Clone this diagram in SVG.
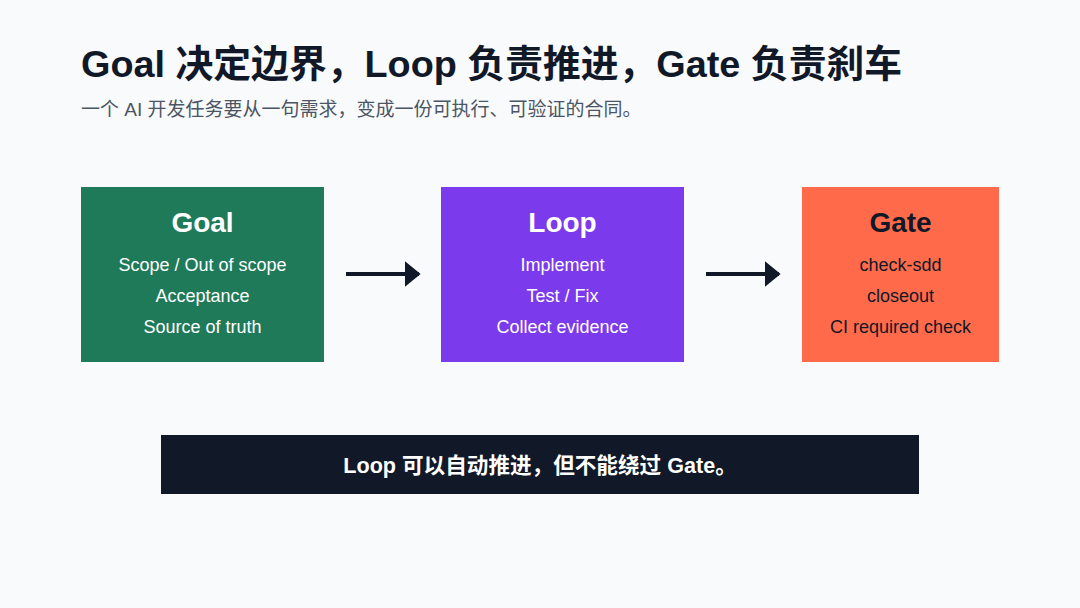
<svg xmlns="http://www.w3.org/2000/svg" width="1080" height="608" viewBox="0 0 1080 608">
<style>
.f{font-family:"Liberation Sans","Noto Sans CJK SC",Arial,sans-serif}
.h{font-size:28px;font-weight:bold;text-anchor:middle}
.b{font-size:18px;text-anchor:middle}
.w{fill:#ffffff}
.d{fill:#111827}
.conn{stroke:#111827;stroke-width:4;fill:none}
</style>
<defs>
<marker id="ah" viewBox="0 0 10 10" refX="9" refY="5" markerWidth="4" markerHeight="6.5" orient="auto" markerUnits="strokeWidth" preserveAspectRatio="none">
<path d="M0,0 L10,5 L0,10 Z" fill="#111827"/>
</marker>
</defs>
<rect width="1080" height="608" fill="#f8fafc"/>
<g id="title">
<text class="f" x="81" y="77" font-size="37.8" font-weight="bold" fill="#111827">Goal 决定边界，Loop 负责推进，Gate 负责刹车</text>
<text class="f" x="81" y="116" font-size="19" fill="#4b5563">一个 AI 开发任务要从一句需求，变成一份可执行、可验证的合同。</text>
</g>
<g id="goal">
<rect x="81" y="187" width="243" height="175" fill="#1f7a5a"/>
<text class="f h w" x="202.5" y="232">Goal</text>
<text class="f b w" x="202.5" y="271">Scope / Out of scope</text>
<text class="f b w" x="202.5" y="302">Acceptance</text>
<text class="f b w" x="202.5" y="333">Source of truth</text>
</g>
<g id="loop">
<rect x="441" y="187" width="243" height="175" fill="#7c3aed"/>
<text class="f h w" x="562.5" y="232">Loop</text>
<text class="f b w" x="562.5" y="271">Implement</text>
<text class="f b w" x="562.5" y="302">Test / Fix</text>
<text class="f b w" x="562.5" y="333">Collect evidence</text>
</g>
<g id="gate">
<rect x="802" y="187" width="197" height="175" fill="#ff6b4a"/>
<text class="f h d" x="900.5" y="232">Gate</text>
<text class="f b d" x="900.5" y="271">check-sdd</text>
<text class="f b d" x="900.5" y="302">closeout</text>
<text class="f b d" x="900.5" y="333">CI required check</text>
</g>
<g id="connectors">
<line class="conn" x1="346" y1="274" x2="419" y2="274" marker-end="url(#ah)"/>
<line class="conn" x1="706" y1="274" x2="779" y2="274" marker-end="url(#ah)"/>
</g>
<g id="banner">
<rect x="161" y="435" width="758" height="59" fill="#111827"/>
<text class="f" x="540" y="473" font-size="21.6" font-weight="bold" fill="#ffffff" text-anchor="middle">Loop 可以自动推进，但不能绕过 Gate。</text>
</g>
</svg>
